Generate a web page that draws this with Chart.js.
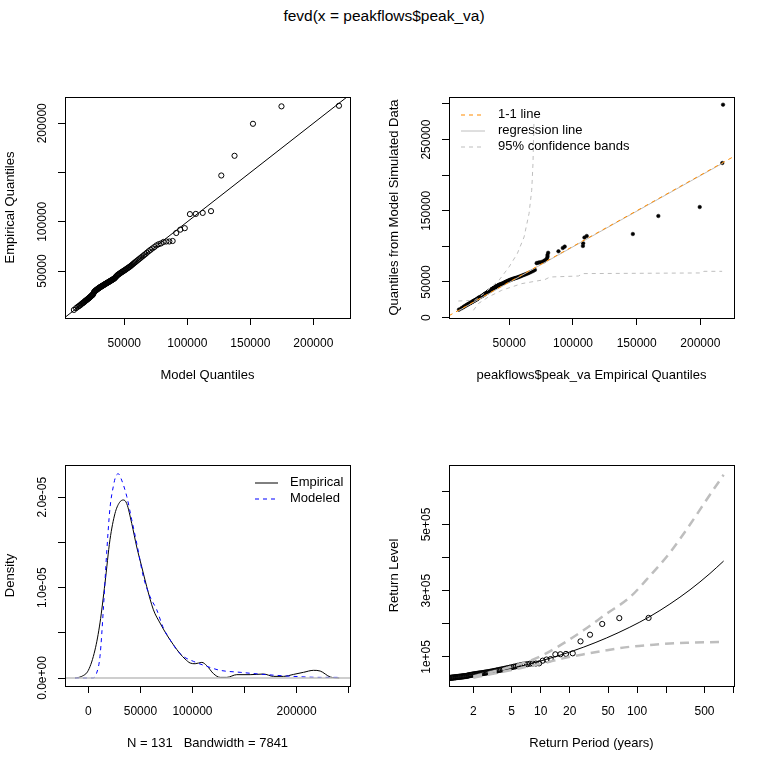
<!DOCTYPE html>
<html>
<head>
<meta charset="utf-8">
<title>fevd(x = peakflows$peak_va)</title>
<script src="https://cdn.jsdelivr.net/npm/chart.js@4.4.1/dist/chart.umd.min.js"></script>
<style>
  html, body { margin: 0; padding: 0; background: #fff; }
  #page { position: relative; width: 768px; height: 768px; overflow: hidden; }
  #main-title { position: absolute; left: 0; top: 7px; width: 768px; text-align: center;
    font-family: "Liberation Sans", Arial, sans-serif; font-size: 15.5px; line-height: 18px; color: #000; }
  .panel { position: absolute; width: 384px; height: 384px; }
</style>
</head>
<body>
<div id="page">
  <div id="main-title">fevd(x = peakflows$peak_va)</div>
  <div class="panel" style="left:0;top:0"><canvas id="qqModel" width="384" height="384"></canvas></div>
  <div class="panel" style="left:384px;top:0"><canvas id="qqSim" width="384" height="384"></canvas></div>
  <div class="panel" style="left:0;top:384px"><canvas id="density" width="384" height="384"></canvas></div>
  <div class="panel" style="left:384px;top:384px"><canvas id="returnLevel" width="384" height="384"></canvas></div>
</div>
<script>
// sorted annual peaks (empirical quantiles), n = 131
const peaks = [
  10500, 12300, 13500, 14300, 15000, 15800, 16500, 17200, 17600, 18100,
  18700, 19300, 19800, 20200, 20600, 21000, 21500, 21900, 22300, 22700,
  23200, 23600, 24000, 24500, 24900, 25300, 25800, 26000, 27000, 28000,
  28800, 29300, 29700, 30100, 30400, 30800, 31100, 31500, 31800, 32100,
  32500, 32800, 33100, 33400, 33700, 34000, 34300, 34500, 34800, 35100,
  35400, 35700, 36000, 36300, 36600, 36900, 37200, 37500, 37800, 38100,
  38400, 38700, 39000, 39300, 39700, 40000, 40300, 40700, 41000, 41400,
  41700, 42100, 42500, 43100, 43800, 44500, 45200, 45800, 46300, 46800,
  47300, 47800, 48300, 48800, 49300, 49800, 50300, 50800, 51400, 52000,
  52600, 53200, 53900, 54500, 55300, 56100, 57000, 57900, 58800, 59700,
  60700, 61700, 62700, 63800, 64900, 66100, 67300, 68700, 70100, 71500,
  72900, 74300, 76000, 77200, 78000, 79500, 80000, 80000, 80500, 88600,
  92000, 93500, 107800, 108000, 109000, 110800, 147000, 167000, 199500, 217200, 217800
];
// model quantiles at the same plotting positions
const modelQuantiles = [
  10000, 11730, 12930, 13880, 14690, 15410, 16060, 16660, 17220, 17750,
  18250, 18730, 19200, 19650, 20080, 20500, 20910, 21320, 21710, 22100,
  22480, 22850, 23230, 23600, 23960, 24330, 24680, 25040, 25400, 25750,
  26100, 26450, 26800, 27150, 27490, 27840, 28190, 28530, 28880, 29230,
  29580, 29930, 30280, 30630, 30980, 31330, 31690, 32050, 32410, 32770,
  33140, 33500, 33870, 34250, 34620, 35000, 35390, 35770, 36160, 36550,
  36960, 37360, 37760, 38180, 38600, 39020, 39440, 39880, 40320, 40760,
  41220, 41680, 42150, 42620, 43110, 43600, 44100, 44600, 45120, 45640,
  46190, 46740, 47300, 47880, 48470, 49060, 49680, 50310, 50960, 51620,
  52290, 52990, 53710, 54450, 55220, 55990, 56800, 57650, 58510, 59410,
  60340, 61310, 62310, 63360, 64460, 65600, 66800, 68050, 69370, 70770,
  72240, 73810, 75460, 77220, 79100, 81150, 83350, 85740, 88350, 91230,
  94420, 97990, 102070, 106750, 112210, 118820, 126970, 137470, 152100, 174720, 220350
];
// quantiles of data simulated from the fitted model
const simQuantiles = [
  11200, 13000, 14200, 15200, 16000, 16900, 17500, 18300, 18800, 19300,
  19900, 20500, 21000, 21500, 21900, 22300, 22800, 23200, 23600, 24000,
  24500, 24900, 25300, 25800, 26300, 26800, 27400, 28000, 28900, 29800,
  30600, 31100, 31600, 32100, 32600, 33000, 33400, 33800, 34200, 34600,
  35000, 35400, 35800, 36200, 36600, 37000, 37400, 37700, 38000, 38400,
  38800, 39100, 39400, 39800, 40100, 40500, 40800, 41100, 41500, 41900,
  42200, 42500, 42800, 43200, 43600, 43900, 44200, 44500, 44800, 45200,
  45600, 46000, 46400, 46800, 47300, 47800, 48300, 48800, 49300, 49800,
  50200, 50600, 51000, 51400, 51800, 52200, 52600, 53000, 53400, 53800,
  54200, 54600, 55000, 55400, 55800, 56200, 56800, 57400, 58000, 58700,
  59400, 60100, 60800, 61600, 62400, 63300, 64300, 65500, 67000, 76500,
  77200, 77800, 78500, 79200, 80500, 83000, 85500, 88000, 91000, 93100,
  97800, 99700, 100600, 104400, 112400, 114600, 117400, 142700, 155300, 217100, 299000
];
// empirical return periods (years) of the sorted peaks
const periods = [
  0.205, 0.239, 0.264, 0.286, 0.306, 0.324, 0.341, 0.357, 0.372, 0.388,
  0.402, 0.417, 0.431, 0.446, 0.460, 0.474, 0.488, 0.502, 0.516, 0.530,
  0.544, 0.558, 0.572, 0.587, 0.601, 0.616, 0.630, 0.645, 0.660, 0.675,
  0.690, 0.706, 0.721, 0.737, 0.753, 0.770, 0.786, 0.803, 0.820, 0.838,
  0.855, 0.873, 0.892, 0.910, 0.929, 0.949, 0.968, 0.989, 1.01, 1.03,
  1.05, 1.07, 1.10, 1.12, 1.14, 1.17, 1.19, 1.22, 1.24, 1.27,
  1.30, 1.32, 1.35, 1.38, 1.41, 1.44, 1.47, 1.51, 1.54, 1.58,
  1.61, 1.65, 1.69, 1.73, 1.77, 1.81, 1.86, 1.90, 1.95, 2.00,
  2.05, 2.10, 2.16, 2.21, 2.27, 2.33, 2.40, 2.47, 2.54, 2.61,
  2.69, 2.77, 2.86, 2.95, 3.04, 3.14, 3.25, 3.36, 3.48, 3.60,
  3.74, 3.88, 4.03, 4.19, 4.37, 4.56, 4.76, 4.98, 5.22, 5.49,
  5.77, 6.09, 6.44, 6.82, 7.25, 7.74, 8.29, 8.92, 9.64, 10.5,
  11.5, 12.7, 14.2, 16.0, 18.3, 21.5, 25.9, 32.5, 43.5, 65.4, 131.6
];

// qq plot of simulated data: regression line and 95% bands
const regX = [10500, 217800];
const regY = [10000, 217100];
const bandUpX = [10000, 23000, 30100, 41900, 49800, 56300, 61600, 65500, 67600, 68600, 69400];
const bandUpY = [23300, 24300, 33700, 52400, 71100, 89900, 113200, 146100, 178800, 216300, 277000];
const bandLowX = [21800, 25700, 33500, 44000, 59700, 78000, 81900, 104200, 108100, 200200, 202800, 217100];
const bandLowY = [10200, 19700, 28900, 38300, 47700, 53400, 57000, 58400, 61800, 62700, 65000, 65000];

// density curves
const densEmpX = [-12800, -6400, 0, 6400, 11200, 16000, 20800, 25600, 29800, 33600,
  36900, 41700, 46500, 51300, 56100, 62500, 68900, 75300, 81700, 88100,
  92900, 97800, 102600, 109000, 113800, 120200, 126600, 133000, 142600, 155400,
  168300, 177900, 187500, 197100, 206700, 216300, 222700, 232400, 241000];
const densEmpY = [0, 0.18e-6, 0.85e-6, 3.1e-6, 6.1e-6, 10.5e-6, 15.3e-6, 18.2e-6, 19.4e-6, 19.7e-6,
  19.3e-6, 17.1e-6, 14.5e-6, 12.3e-6, 10.1e-6, 7.55e-6, 6.08e-6, 4.79e-6, 3.68e-6, 2.69e-6,
  2.1e-6, 1.66e-6, 1.58e-6, 1.73e-6, 1.36e-6, 0.48e-6, 0.07e-6, 0.07e-6, 0.37e-6, 0.37e-6,
  0.44e-6, 0.18e-6, 0.18e-6, 0.4e-6, 0.63e-6, 0.85e-6, 0.77e-6, 0.11e-6, 0];
const densModX = [-12800, 4800, 8000, 11200, 14400, 17600, 20800, 24000, 26300, 28800,
  32000, 36900, 41700, 46500, 52900, 59300, 65700, 72100, 78500, 84900,
  91300, 101000, 113800, 126600, 145800, 171500, 197100, 222700, 242000];
const densModY = [0, 0, 0.55e-6, 2.4e-6, 7.55e-6, 13.8e-6, 18.8e-6, 21.2e-6, 22.3e-6, 22.6e-6,
  21.9e-6, 20.1e-6, 17.5e-6, 14.9e-6, 11.2e-6, 9.0e-6, 7.55e-6, 5.52e-6, 4.24e-6, 3.13e-6,
  2.39e-6, 1.84e-6, 1.29e-6, 0.85e-6, 0.63e-6, 0.37e-6, 0.18e-6, 0.07e-6, 0.07e-6];

// return level curve with 95% bounds
const rlPeriods = [2, 3, 5, 7.7, 10.6, 17, 28, 48, 84, 136, 219, 354, 570, 790];
const rlLevels = [39000, 50300, 65100, 78800, 89900, 107900, 129700, 157000, 189700, 222100, 259700, 302800, 351900, 389600];
const rlUpper = [41000, 53500, 71000, 88000, 105700, 140000, 181000, 230000, 280000, 345000, 415000, 500000, 590000, 650000];
const rlLower = [37000, 47500, 60500, 72500, 80800, 95500, 108000, 120000, 130500, 136000, 140700, 143000, 144500, 145500];

// ticks and tick labels
const qqXTicks = [50000, 100000, 150000, 200000];
const qqModelYTicks = [50000, 100000, 150000, 200000];
const qqModelYLabels = ['50000', '100000', '', '200000'];
const qqSimYTicks = [0, 50000, 100000, 150000, 200000, 250000, 300000];
const qqSimYLabels = ['0', '50000', '', '150000', '', '250000', ''];
const densXTicks = [0, 50000, 100000, 150000, 200000, 250000];
const densXLabels = ['0', '50000', '100000', '', '200000', ''];
const densYTicks = [0, 5e-6, 1e-5, 1.5e-5, 2e-5];
const densYLabels = ['0.0e+00', '', '1.0e-05', '', '2.0e-05'];
const rlXTicks = [2, 5, 10, 20, 50, 100, 200, 500, 1000];
const rlXLabels = ['2', '5', '10', '20', '50', '100', '', '500', ''];
const rlYTicks = [100000, 200000, 300000, 400000, 500000, 600000];
const rlYLabels = ['1e+05', '', '3e+05', '', '5e+05', ''];

const FONT = '"Liberation Sans", Arial, sans-serif';

function pairs(xs, ys) {
  return xs.map(function(x, i) { return { x: x, y: ys[i] }; });
}

// box around the plot region, rotated y tick labels, inset legend
const rDecor = {
  id: 'rDecor',
  afterDraw: function(chart, args, opts) {
    const ctx = chart.ctx;
    const a = chart.chartArea;
    ctx.save();
    ctx.strokeStyle = '#000';
    ctx.lineWidth = 1;
    ctx.setLineDash([]);
    ctx.strokeRect(Math.round(a.left) + 0.5, Math.round(a.top) + 0.5,
      Math.round(a.right - a.left), Math.round(a.bottom - a.top));

    ctx.fillStyle = '#000';
    ctx.font = '12px ' + FONT;
    ctx.textAlign = 'center';
    ctx.textBaseline = 'middle';
    const ys = chart.scales.y;
    (opts.yTicks || []).forEach(function(v, i) {
      const text = opts.yLabels[i];
      if (!text) return;
      ctx.save();
      ctx.translate(a.left - 22, ys.getPixelForValue(v));
      ctx.rotate(-Math.PI / 2);
      ctx.fillText(text, 0, 0);
      ctx.restore();
    });

    if (opts.legend) {
      const lg = opts.legend;
      ctx.textAlign = 'left';
      ctx.font = '13px ' + FONT;
      lg.items.forEach(function(item, i) {
        const y = lg.y + i * lg.step;
        ctx.strokeStyle = item.color;
        ctx.lineWidth = 1;
        ctx.setLineDash(item.dash || []);
        ctx.beginPath();
        ctx.moveTo(lg.x0, y + 0.5);
        ctx.lineTo(lg.x1, y + 0.5);
        ctx.stroke();
        ctx.setLineDash([]);
        ctx.fillStyle = '#000';
        ctx.fillText(item.text, lg.tx, y);
      });
    }
    ctx.restore();
  }
};
Chart.register(rDecor);

function xAxis(o) {
  return {
    type: o.type || 'linear',
    position: 'bottom',
    min: o.min,
    max: o.max,
    afterBuildTicks: function(scale) {
      scale.ticks = o.ticks.map(function(v) { return { value: v }; });
    },
    afterFit: function(scale) { scale.height = o.height; },
    grid: { drawOnChartArea: false, drawTicks: true, tickLength: 7, color: '#000', lineWidth: 1 },
    border: { display: false },
    ticks: {
      autoSkip: false, maxRotation: 0, minRotation: 0, padding: 11, color: '#000',
      font: { family: FONT, size: 12 },
      callback: function(value) {
        const i = o.ticks.indexOf(value);
        return i >= 0 ? o.labels[i] : '';
      }
    },
    title: { display: true, text: o.title, color: '#000', font: { family: FONT, size: 13 },
      padding: { top: 0, bottom: o.titlePad } }
  };
}

function yAxis(o) {
  return {
    type: 'linear',
    position: 'left',
    min: o.min,
    max: o.max,
    afterBuildTicks: function(scale) {
      scale.ticks = o.ticks.map(function(v) { return { value: v }; });
    },
    afterFit: function(scale) { scale.width = 65; },
    grid: { drawOnChartArea: false, drawTicks: true, tickLength: 7, color: '#000', lineWidth: 1 },
    border: { display: false },
    ticks: { display: false },
    title: { display: true, text: o.title, color: '#000', font: { family: FONT, size: 13 },
      padding: { top: 2.2, bottom: 0 } }
  };
}

function makeChart(id, datasets, scales, decor, top) {
  return new Chart(document.getElementById(id), {
    type: 'scatter',
    data: { datasets: datasets },
    options: {
      responsive: false,
      animation: false,
      events: [],
      layout: { padding: { top: top, right: 34, bottom: 0, left: 0 } },
      scales: scales,
      plugins: { legend: { display: false }, tooltip: { enabled: false }, rDecor: decor }
    }
  });
}

function openCircles(data) {
  return { data: data, showLine: false, pointRadius: 2.6, pointBorderWidth: 1,
    pointBorderColor: '#000', pointBackgroundColor: 'rgba(0,0,0,0)', clip: 0 };
}

function line(data, color, width, dash, smooth) {
  return { data: data, showLine: true, pointRadius: 0, borderColor: color, borderWidth: width,
    borderDash: dash || [], clip: 0, cubicInterpolationMode: smooth ? 'monotone' : 'default' };
}

// panel 1: model quantiles vs empirical quantiles
const q1 = { xmin: 2940, xmax: 229100, ymin: 2300, ymax: 226700 };
makeChart('qqModel', [
  line([{ x: q1.xmin, y: q1.xmin }, { x: q1.xmax, y: q1.xmax }], '#000', 1),
  openCircles(pairs(modelQuantiles, peaks))
], {
  x: xAxis({ min: q1.xmin, max: q1.xmax, ticks: qqXTicks, labels: qqXTicks.map(String),
    height: 66, title: 'Model Quantiles', titlePad: 1.2 }),
  y: yAxis({ min: q1.ymin, max: q1.ymax, ticks: qqModelYTicks, title: 'Empirical Quantiles' })
}, { yTicks: qqModelYTicks, yLabels: qqModelYLabels }, 97);

// panel 2: empirical quantiles vs quantiles from model simulated data
const q2 = { xmin: 2670, xmax: 226400, ymin: -560, ymax: 309800 };
makeChart('qqSim', [
  line(pairs(bandUpX, bandUpY), '#bebebe', 1, [4, 4]),
  line(pairs(bandLowX, bandLowY), '#bebebe', 1, [4, 4]),
  line([{ x: q2.xmin, y: q2.xmin }, { x: q2.xmax, y: q2.xmax }], '#ff8c00', 1, [4, 4]),
  line(pairs(regX, regY), '#bebebe', 1),
  { data: pairs(peaks, simQuantiles), showLine: false, pointRadius: 1.8, pointBorderWidth: 0.5,
    pointBorderColor: '#000', pointBackgroundColor: '#000', clip: 0 }
], {
  x: xAxis({ min: q2.xmin, max: q2.xmax, ticks: qqXTicks, labels: qqXTicks.map(String),
    height: 66, title: 'peakflows$peak_va Empirical Quantiles', titlePad: 1.2 }),
  y: yAxis({ min: q2.ymin, max: q2.ymax, ticks: qqSimYTicks, title: 'Quantiles from Model Simulated Data' })
}, {
  yTicks: qqSimYTicks, yLabels: qqSimYLabels,
  legend: { x0: 77, x1: 101, tx: 114, y: 114.5, step: 16, items: [
    { text: '1-1 line', color: '#ff8c00', dash: [4, 4] },
    { text: 'regression line', color: '#bebebe' },
    { text: '95% confidence bands', color: '#bebebe', dash: [4, 4] }
  ] }
}, 97);

// panel 3: empirical and modeled densities
const d3 = { xmin: -22400, xmax: 251300, ymin: -0.884e-6, ymax: 2.357e-5 };
makeChart('density', [
  line([{ x: d3.xmin, y: 0 }, { x: d3.xmax, y: 0 }], '#bebebe', 1.5),
  line(pairs(densModX, densModY), '#0000ff', 1, [4, 4], true),
  line(pairs(densEmpX, densEmpY), '#000', 1, null, true)
], {
  x: xAxis({ min: d3.xmin, max: d3.xmax, ticks: densXTicks, labels: densXLabels,
    height: 82, title: 'N = 131   Bandwidth = 7841', titlePad: 16.9 }),
  y: yAxis({ min: d3.ymin, max: d3.ymax, ticks: densYTicks, title: 'Density' })
}, {
  yTicks: densYTicks, yLabels: densYLabels,
  legend: { x0: 255, x1: 278, tx: 290, y: 98.5, step: 16, items: [
    { text: 'Empirical', color: '#000' },
    { text: 'Modeled', color: '#0000ff', dash: [4, 4] }
  ] }
}, 81);

// panel 4: return level plot
const r4 = { xmin: 1.12, xmax: 1012, ymin: 12100, ymax: 679700 };
makeChart('returnLevel', [
  line(pairs(rlPeriods, rlUpper), '#bebebe', 2.5, [9, 6], true),
  line(pairs(rlPeriods, rlLower), '#bebebe', 2.5, [9, 6], true),
  line(pairs(rlPeriods, rlLevels), '#000', 1, null, true),
  openCircles(pairs(periods, peaks))
], {
  x: xAxis({ type: 'logarithmic', min: r4.xmin, max: r4.xmax, ticks: rlXTicks, labels: rlXLabels,
    height: 82, title: 'Return Period (years)', titlePad: 16.9 }),
  y: yAxis({ min: r4.ymin, max: r4.ymax, ticks: rlYTicks, title: 'Return Level' })
}, { yTicks: rlYTicks, yLabels: rlYLabels }, 81);
</script>
</body>
</html>
